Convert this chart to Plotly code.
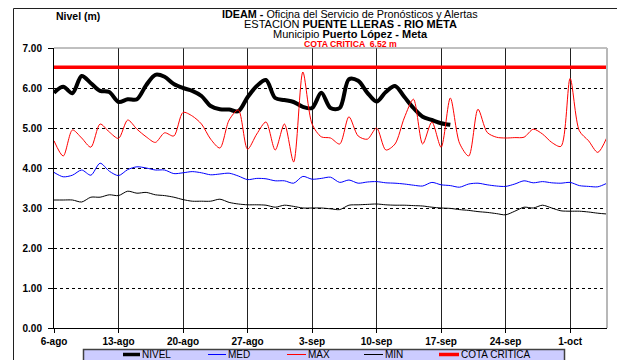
import pandas as pd
import plotly.graph_objects as go

# ---------------- data ----------------
start_date = "2013-08-06"
n_days = 61

nivel = [5.88, 6.03, 5.87, 6.30, 6.12, 5.93, 5.90, 5.65, 5.72, 5.72,
         6.07, 6.33, 6.28, 6.10, 6.00, 5.93, 5.80, 5.55, 5.47, 5.46,
         5.42, 5.77, 6.05, 6.20, 5.75, 5.70, 5.65, 5.53, 5.50, 5.88,
         5.50, 5.50, 6.22, 6.18, 5.88, 5.66, 5.90, 6.05, 5.78, 5.50,
         5.28, 5.20, 5.12, 5.08]

med = [3.89, 3.78, 3.82, 3.95, 3.82, 4.12, 3.92, 3.81, 3.96, 4.03,
       4.00, 3.95, 3.95, 3.86, 3.88, 3.91, 3.88, 3.83, 3.85, 3.87,
       3.80, 3.71, 3.74, 3.73, 3.68, 3.68, 3.62, 3.79, 3.72, 3.74,
       3.77, 3.64, 3.70, 3.62, 3.65, 3.66, 3.63, 3.62, 3.60, 3.57,
       3.55, 3.64, 3.58, 3.56, 3.52, 3.60, 3.62, 3.58, 3.55, 3.54,
       3.60, 3.68, 3.63, 3.66, 3.63, 3.62, 3.64, 3.56, 3.54, 3.53,
       3.62]

maxv = [4.68, 4.30, 4.95, 4.75, 4.52, 5.10, 4.90, 4.74, 5.20, 4.97,
        4.78, 4.64, 4.88, 4.80, 5.39, 5.30, 5.10, 4.72, 4.50, 5.20,
        5.45, 4.47, 4.85, 5.15, 4.45, 5.10, 4.15, 6.40, 5.10, 4.78,
        4.75, 4.60, 5.28, 4.80, 4.72, 5.00, 4.45, 4.60, 5.25, 5.72,
        4.60, 5.15, 4.52, 5.75, 4.62, 4.30, 5.47, 4.89, 4.77, 4.75,
        4.76, 4.77, 4.97, 4.85, 4.64, 4.54, 6.24, 4.93, 4.68, 4.39,
        4.77]

minv = [3.20, 3.20, 3.20, 3.15, 3.27, 3.27, 3.33, 3.31, 3.42, 3.37,
        3.39, 3.33, 3.31, 3.27, 3.21, 3.17, 3.17, 3.17, 3.22, 3.14,
        3.10, 3.08, 3.08, 3.07, 3.02, 3.07, 3.04, 3.00, 3.00, 3.00,
        2.98, 2.96, 3.07, 3.08, 3.09, 3.10, 3.08, 3.07, 3.07, 3.06,
        3.05, 3.02, 3.00, 2.99, 2.96, 2.94, 2.91, 2.89, 2.86, 2.83,
        2.92, 3.02, 3.00, 3.07, 3.00, 2.93, 2.92, 2.92, 2.90, 2.87,
        2.85]

cota_critica = 6.52

tick_dates = ["2013-08-06", "2013-08-13", "2013-08-20", "2013-08-27", "2013-09-03",
              "2013-09-10", "2013-09-17", "2013-09-24", "2013-10-01"]
tick_labels = ["6-ago", "13-ago", "20-ago", "27-ago", "3-sep",
               "10-sep", "17-sep", "24-sep", "1-oct"]
y_ticks = [0, 1, 2, 3, 4, 5, 6, 7]
y_labels = ["0.00", "1.00", "2.00", "3.00", "4.00", "5.00", "6.00", "7.00"]

series_names = ["NIVEL", "MED", "MAX", "MIN", "COTA CRITICA"]

# ---------------- figure ----------------
dates = pd.date_range(start_date, periods=n_days)
FONT = "Liberation Sans, Arial, sans-serif"

OFF = 8  # page body margin
W, H = 617, 352
L, R, T, B = 46, 18, 40, 32
PW, PH = W - L - R, H - T - B


def px(x):
    """page x pixel -> paper coordinate"""
    return (x - OFF - L) / PW


def py(y):
    """page y pixel -> paper coordinate"""
    return (H - B - (y - OFF)) / PH


fig = go.Figure()
fig.add_trace(go.Scatter(x=dates[:len(nivel)], y=nivel, mode="lines", name=series_names[0],
                         line=dict(color="black", width=4, shape="spline", smoothing=0.9)))
fig.add_trace(go.Scatter(x=dates, y=med, mode="lines", name=series_names[1],
                         line=dict(color="#0000ff", width=1, shape="spline", smoothing=0.8)))
fig.add_trace(go.Scatter(x=dates, y=maxv, mode="lines", name=series_names[2],
                         line=dict(color="#ff0000", width=1, shape="spline", smoothing=0.8)))
fig.add_trace(go.Scatter(x=dates, y=minv, mode="lines", name=series_names[3],
                         line=dict(color="black", width=1, shape="spline", smoothing=0.8)))
fig.add_trace(go.Scatter(x=dates, y=[cota_critica] * n_days, mode="lines", name=series_names[4],
                         line=dict(color="#ff0000", width=3.5)))

fig.update_layout(
    width=W, height=H,
    margin=dict(l=L, r=R, t=T, b=B),
    paper_bgcolor="white", plot_bgcolor="white",
    showlegend=False,
    font=dict(family=FONT, color="black", size=10),
)

fig.update_xaxes(
    type="date", range=[dates[0], dates[-1]],
    tickvals=tick_dates, ticktext=[f"<b>{t}</b>" for t in tick_labels],
    showgrid=True, gridcolor="#222222", gridwidth=1,
    showline=True, linecolor="black", linewidth=1,
    ticks="outside", ticklen=4, tickcolor="black",
    tickfont=dict(family=FONT, size=10, color="black"),
    zeroline=False,
)
fig.update_yaxes(
    range=[0, 7], tickvals=y_ticks, ticktext=[f"<b>{t}</b>" for t in y_labels],
    showgrid=True, gridcolor="black", gridwidth=1, griddash="dot",
    showline=True, linecolor="black", linewidth=1,
    ticks="outside", ticklen=5, tickcolor="black", ticklabelstandoff=4,
    tickfont=dict(family=FONT, size=10, color="black"),
    zeroline=False,
)

shapes = []
# plot area top and right border
shapes.append(dict(type="line", xref="paper", yref="paper", x0=0, x1=1, y0=1, y1=1,
                   line=dict(color="#808080", width=1)))
shapes.append(dict(type="line", xref="paper", yref="paper", x0=1, x1=1, y0=0, y1=1,
                   line=dict(color="#b8b8b8", width=2)))
# outer frame
shapes.append(dict(type="rect", xref="paper", yref="paper",
                   x0=px(13.5), x1=px(619.5), y0=py(372), y1=py(8.5),
                   line=dict(color="#202020", width=1), fillcolor="rgba(0,0,0,0)", layer="below"))
# legend box
shapes.append(dict(type="rect", xref="paper", yref="paper",
                   x0=px(83.5), x1=px(564.5), y0=py(368), y1=py(349.5),
                   line=dict(color="#404040", width=1.5), fillcolor="#ccccff"))

legend_items = [
    (series_names[0], 123, 140, "black", 3.5),
    (series_names[1], 208, 226, "#0000ff", 1),
    (series_names[2], 287, 306, "#ff0000", 1),
    (series_names[3], 364, 383, "black", 1),
    (series_names[4], 439, 459, "#ff0000", 3.5),
]
annotations = []
for name, x0, x1, col, wd in legend_items:
    shapes.append(dict(type="line", xref="paper", yref="paper",
                       x0=px(x0), x1=px(x1), y0=py(354.5), y1=py(354.5),
                       line=dict(color=col, width=wd)))
    annotations.append(dict(xref="paper", yref="paper", x=px(x1), y=py(354.5),
                            text=name, showarrow=False, xanchor="left", yanchor="middle",
                            font=dict(family=FONT, size=10, color="black")))

cx = px(350)
annotations += [
    dict(xref="paper", yref="paper", x=cx, y=py(13.8), showarrow=False, xanchor="center", yanchor="middle",
         text="<b>IDEAM -</b> Oficina del Servicio de Pronósticos y Alertas",
         font=dict(family=FONT, size=10.8, color="black")),
    dict(xref="paper", yref="paper", x=cx, y=py(24.2), showarrow=False, xanchor="center", yanchor="middle",
         text="ESTACIÓN <b>PUENTE LLERAS - RIO META</b>",
         font=dict(family=FONT, size=11, color="black")),
    dict(xref="paper", yref="paper", x=cx, y=py(34.4), showarrow=False, xanchor="center", yanchor="middle",
         text="Municipio <b>Puerto López - Meta</b>",
         font=dict(family=FONT, size=11, color="black")),
    dict(xref="paper", yref="paper", x=cx, y=py(43.5), showarrow=False, xanchor="center", yanchor="middle",
         text=f"<b>COTA CRÍTICA  {cota_critica:.2f} m</b>",
         font=dict(family=FONT, size=8.7, color="#ff0000")),
    dict(xref="paper", yref="paper", x=px(54), y=py(16.5), showarrow=False, xanchor="left", yanchor="middle",
         text="<b>Nivel (m)</b>",
         font=dict(family=FONT, size=10.5, color="black")),
]

fig.update_layout(shapes=shapes, annotations=annotations)
fig.write_html("out.html")
